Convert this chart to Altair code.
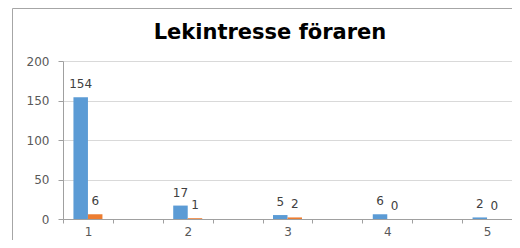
import altair as alt
import pandas as pd

# category slots on the x axis: Excel-style, a blank slot between labelled ones
slots = ["1", " ", "2", "  ", "3", "   ", "4", "    ", "5"]
categories = ["1", "2", "3", "4", "5"]
series_names = ["Serie 1", "Serie 2"]
serie1 = [154, 17, 5, 6, 2]
serie2 = [6, 1, 2, 0, 0]
y_ticks = [0, 50, 100, 150, 200]
chart_title = "Lekintresse föraren"

rows = []
for c, a, b in zip(categories, serie1, serie2):
    rows.append({"cat": c, "serie": series_names[0], "value": a})
    rows.append({"cat": c, "serie": series_names[1], "value": b})
df = pd.DataFrame(rows)

W, H = 449, 158
FONT = "DejaVu Sans"

x = alt.X(
    "cat:N",
    scale=alt.Scale(domain=slots, paddingInner=0, paddingOuter=0),
    axis=alt.Axis(
        title=None,
        labelAngle=0,
        tickBand="extent",
        tickSize=4,
        tickColor="#A0A0A0",
        domainColor="#A0A0A0",
        labelPadding=3,
        labelFont=FONT,
        labelFontSize=12,
        labelColor="#595959",
        grid=False,
    ),
)
y = alt.Y(
    "value:Q",
    scale=alt.Scale(domain=[0, 200]),
    axis=alt.Axis(
        title=None,
        values=y_ticks,
        tickSize=5,
        tickColor="#A0A0A0",
        domainColor="#A0A0A0",
        gridColor="#D9D9D9",
        labelPadding=9,
        labelFont=FONT,
        labelFontSize=12,
        labelColor="#595959",
    ),
)
color = alt.Color(
    "serie:N",
    scale=alt.Scale(domain=series_names, range=["#5B9BD5", "#ED7D31"]),
    legend=None,
)
xoff = alt.XOffset(
    "serie:N",
    scale=alt.Scale(domain=series_names, paddingInner=0, paddingOuter=0.72),
)

base = alt.Chart(df)
bars = base.mark_bar().encode(x=x, y=y, color=color, xOffset=xoff)
labels = base.mark_text(
    baseline="alphabetic", dy=-9, font=FONT, fontSize=12, color="#404040"
).encode(x=x, y=y, xOffset=xoff, text="value:Q")

# light grey outer chart frame (Excel chart area border)
frame = alt.Chart(pd.DataFrame({"k": [0]})).mark_rect(
    fill="transparent", stroke="#A6A6A6", strokeWidth=1
).encode(
    x=alt.value(-50.5), x2=alt.value(W + 20), y=alt.value(-52.5), y2=alt.value(H + 40)
)

# chart title, centred on the chart area
title = alt.Chart(pd.DataFrame({"t": [chart_title]})).mark_text(
    font=FONT, fontSize=21, fontWeight="bold", color="#000000",
    align="center", baseline="alphabetic",
).encode(text="t:N", x=alt.value(207), y=alt.value(-22))

chart = alt.layer(frame, bars, labels, title).properties(
    width=W,
    height=H,
    autosize=alt.AutoSizeParams(type="none"),
    padding={"left": 55, "top": 53, "right": 0, "bottom": 21},
).configure_view(stroke=None)

chart.save("out.html", embed_options={"renderer": "svg", "actions": False})
